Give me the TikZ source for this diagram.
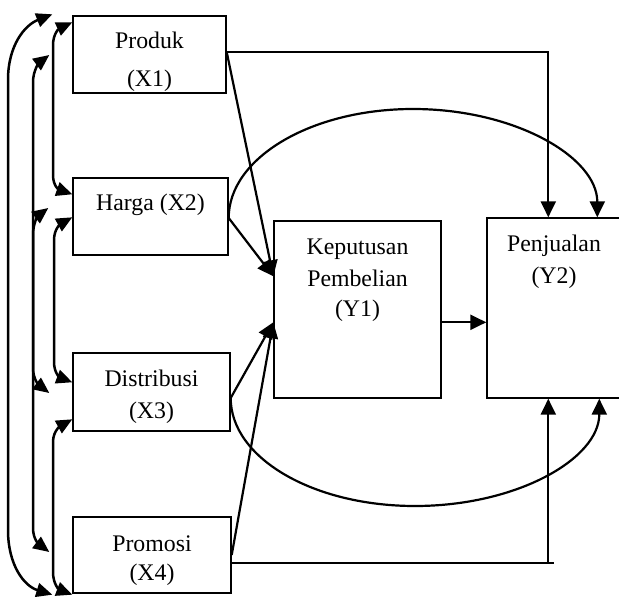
\documentclass[tikz,border=0pt]{standalone}
\usepackage{fontspec}
\setmainfont{Liberation Serif}
\usetikzlibrary{arrows.meta,calc}
\tikzset{
  box/.style={draw, line width=1.4pt, inner sep=0pt},
  lbl/.style={anchor=base, inner sep=0pt, font=\fontsize{23.8}{28}\selectfont},
  conn/.style={line width=2.2pt},
  arr/.style={conn, -{Triangle[length=16pt,width=15pt]}},
  biarr/.style={line width=2.5pt, {Triangle[length=16pt,width=14pt]}-{Triangle[length=16pt,width=14pt]}},
}
\begin{document}
\begin{tikzpicture}[x=1pt,y=-1pt]
\useasboundingbox (0,0) rectangle (619,597);

% exogenous variables
\node[box, minimum width=153pt, minimum height=77pt] (x1) at (149.5,54.5) {};
\node[box, minimum width=155pt, minimum height=77pt] (x2) at (150.5,216.5) {};
\node[box, minimum width=157pt, minimum height=78pt] (x3) at (151.5,392) {};
\node[box, minimum width=158pt, minimum height=76pt] (x4) at (152,555) {};
% endogenous variables
\node[box, minimum width=167pt, minimum height=177pt] (y1) at (357.5,309.5) {};
\node[box, minimum width=134pt, minimum height=180pt] (y2) at (554,308) {};

% labels
\node[lbl] (x1a) at (149.5,48) {Produk};
\node[lbl] (x1b) at (149.5,86) {(X1)};
\node[lbl] (x2a) at (150.5,210) {Harga (X2)};
\node[lbl] (x3a) at (151.5,386.5) {Distribusi};
\node[lbl] (x3b) at (151.5,418) {(X3)};
\node[lbl] (x4a) at (152,551) {Promosi};
\node[lbl] (x4b) at (152,580.5) {(X4)};
\node[lbl] (y1a) at (357.5,254) {Keputusan};
\node[lbl] (y1b) at (357.5,286) {Pembelian};
\node[lbl] (y1c) at (357.5,316) {(Y1)};
\node[lbl] (y2a) at (554,251) {Penjualan};
\node[lbl] (y2b) at (554,283) {(Y2)};

% connection points
\coordinate (x1o) at ($(x1.east)+(0,-2.5)$);
\coordinate (x2o) at ($(x2.east)+(0,1.5)$);
\coordinate (x3o) at ($(x3.east)+(0,6)$);
\coordinate (x4o) at (x4.east);
\coordinate (x4h) at ($(x4.east)+(0,8)$);
\coordinate (y1u) at ($(y1.north west)+(0,56)$);
\coordinate (y1l) at ($(y1.north west)+(0,102)$);
\coordinate (y1r) at ($(y1.north east)+(0,102)$);
\coordinate (y2t) at ($(y2.north west)+(62,0)$);
\coordinate (y2b) at ($(y2.south west)+(62,0)$);
\coordinate (top) at (413,109);
\coordinate (bot) at (415,506);

% direct paths
\draw[arr] (x1o) -| (y2t);
\draw[arr] (x1o) -- (y1u);
\draw[arr] (x2o) -- (y1u);
\draw[arr] (x3o) -- (y1l);
\draw[arr] (x4o) -- (y1l);
\draw[arr] (y1r) -- (y1r -| y2.west);
\draw[conn] (x4h) -- ($(x4h -| y2b)+(6,0)$);
\draw[arr] (x4h -| y2b) -- (y2b);

% indirect paths through Y1
\draw[arr] (x2o) .. controls +(0,-60) and +(-102,0) .. (top)
  .. controls +(102,0) and +(0,-60) .. ($(y2.north west)+(111,0)$);
\draw[arr] (x3o) .. controls +(0,60) and +(-102,0) .. (bot)
  .. controls +(102,0) and +(0,60) .. ($(y2.south west)+(113,0)$);

% correlations among X1..X4
\draw[biarr] ($(x1.north west)+(-20,-1)$) .. controls (25,25) and (8,45) .. (8,80)
  -- (8,530) .. controls (8,565) and (24,586) .. ($(x4.south west)+(-20,1)$);
\draw[biarr] ($(x1.west)+(-23,0.5)$) .. controls (40,62) and (33,70) .. (33,82)
  -- (33,368) .. controls (33,380) and (40,386) .. ($(x3.west)+(-23,1)$);
\draw[biarr] ($(x2.west)+(-24,-8.5)$) .. controls (39,215) and (33,222) .. (33,235)
  -- (33,528) .. controls (33,540) and (40,545) .. ($(x4.west)+(-23,-3)$);
\draw[biarr] ($(x1.north west)+(0,7)$) .. controls (60,28) and (53,33) .. (53,45)
  -- (53,175) .. controls (53,187) and (60,190) .. ($(x2.north west)+(0,17)$);
\draw[biarr] ($(x2.north west)+(0,40)$) .. controls (62,223) and (54,228) .. (54,240)
  -- (54,362) .. controls (54,374) and (61,378) .. ($(x3.north west)+(0,30)$);
\draw[biarr] ($(x3.north west)+(0,67)$) .. controls (62,425) and (53,430) .. (53,442)
  -- (53,572) .. controls (53,585) and (60,590) .. ($(x4.south west)+(0,1)$);
\end{tikzpicture}
\end{document}
